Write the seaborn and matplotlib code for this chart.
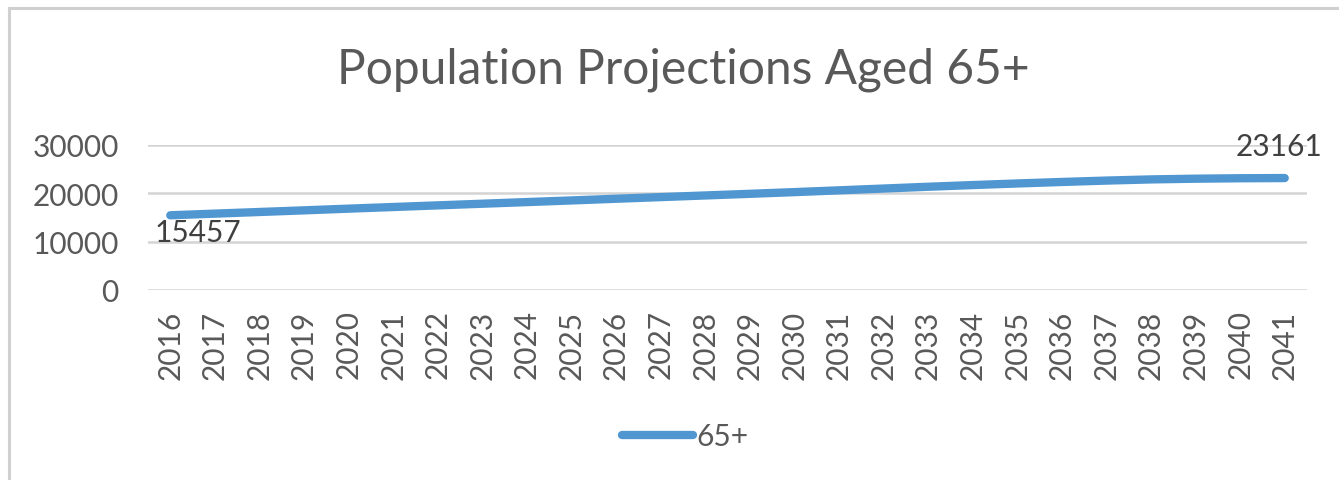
import matplotlib
matplotlib.use("Agg")
import matplotlib.pyplot as plt
import seaborn as sns
import pandas as pd
from matplotlib.patches import Rectangle

years = [str(y) for y in range(2016, 2042)]
pop_65plus = [15457, 15800, 16140, 16480, 16830, 17170, 17510, 17850, 18190,
              18530, 18880, 19220, 19560, 19900, 20250, 20620, 20990, 21360,
              21710, 22040, 22350, 22640, 22880, 23030, 23120, 23161]
series_name = "65+"
title = "Population Projections Aged 65+"
y_ticks = [0, 10000, 20000, 30000]

sns.set_theme(style="white")
plt.rcParams['font.family'] = ['Lato', 'DejaVu Sans']

df = pd.DataFrame({"Year": years, "Population": pop_65plus, "Group": series_name})

fig = plt.figure(figsize=(13.39, 4.81), dpi=100)
ax = fig.add_axes([148/1339, 1-291/481, (1307-148)/1339, (291-146)/481])

line_color = "#5097D1"
text_color = "#595959"
grid_color = "#D4D4D4"
fs = 21.5

sns.lineplot(data=df, x="Year", y="Population", hue="Group", palette=[line_color],
             linewidth=6, ax=ax, legend=True, sort=False)
for ln in ax.lines:
    ln.set_solid_capstyle("round")
    ln.set_solid_joinstyle("round")

ax.set_xlim(-0.5, len(years) - 0.5)
ax.set_ylim(0, 30000)
ax.set_yticks(y_ticks)
ax.set_yticklabels([str(v) for v in y_ticks])
ax.set_xticks(range(len(years)))
ax.set_xticklabels(years, rotation=90)
ax.tick_params(axis='both', labelsize=fs, colors=text_color, length=0)
ax.tick_params(axis='y', pad=21)
ax.tick_params(axis='x', pad=14)
ax.set_xlabel("")
ax.set_ylabel("")
for s in ax.spines.values():
    s.set_visible(False)
ax.yaxis.grid(True, color=grid_color, linewidth=1.8)
ax.xaxis.grid(False)
ax.set_axisbelow(True)

# data labels for first and last values
ax.annotate(str(pop_65plus[0]), xy=(0, pop_65plus[0]), xytext=(-11, -2),
            textcoords="offset points", ha="left", va="top",
            fontsize=fs, color="#404040")
ax.annotate(str(pop_65plus[-1]), xy=(len(years) - 1, pop_65plus[-1]), xytext=(-4, 23),
            textcoords="offset points", ha="center", va="center",
            fontsize=fs, color="#404040", annotation_clip=False)

fig.text(0.510, 1 - 70/481, title, ha="center", va="center", fontsize=34.5, color=text_color)

leg = ax.legend(loc="center", bbox_to_anchor=(685/1339, 1 - 437/481),
                bbox_transform=fig.transFigure, frameon=False, fontsize=fs,
                handlelength=2.4, handletextpad=0.1)
for t in leg.get_texts():
    t.set_color(text_color)
for h in leg.get_lines():
    h.set_linewidth(6)
    h.set_solid_capstyle("round")

fig.patches.append(Rectangle((9/1339, -0.1), 1.2, 1.1 - 9/481, transform=fig.transFigure,
                             fill=False, edgecolor="#D0D0D0", linewidth=2.2, zorder=0))

fig.savefig("out.png", dpi=100, facecolor="white")
